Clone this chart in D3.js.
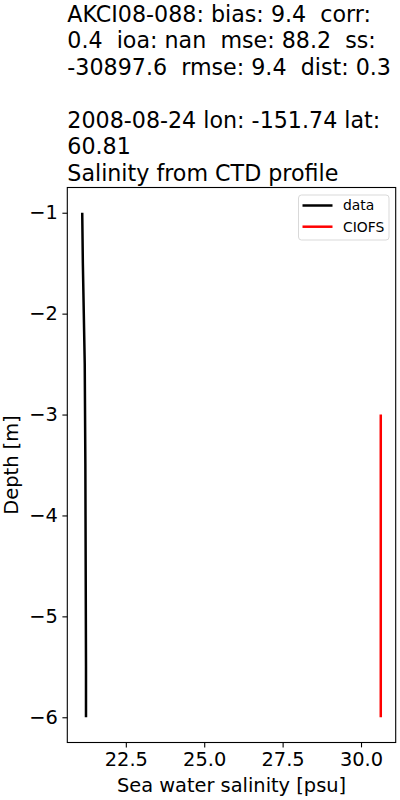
<!DOCTYPE html>
<html><head><meta charset="utf-8">
<script src="https://cdn.jsdelivr.net/npm/d3@7"></script>
<style>body{margin:0;background:#fff}svg{display:block}text{white-space:pre}</style>
</head><body>
<script>
const titleLines = ["AKCI08-088: bias: 9.4  corr:", "0.4  ioa: nan  mse: 88.2  ss:", "-30897.6  rmse: 9.4  dist: 0.3", "", "2008-08-24 lon: -151.74 lat:", "60.81", "Salinity from CTD profile"];
const dataDepth = [-1, -1.5, -2, -2.5, -3, -3.5, -4, -4.5, -5, -5.5, -6];
const dataSal = [21.11, 21.13, 21.16, 21.19, 21.20, 21.21, 21.215, 21.22, 21.225, 21.23, 21.23];
const modelDepth = [-3, -4, -5, -6];
const modelSal = [30.63, 30.63, 30.63, 30.63];
const xTicks = [22.5, 25.0, 27.5, 30.0];
const yTicks = [-1, -2, -3, -4, -5, -6];
const legendLabels = ["data", "CIOFS"];
const colors = ["#000000", "#ff0000"];

const W = 400, H = 800;
const m = {l: 67.3, r: 395.7, t: 187.5, b: 742.5};
const svg = d3.select("body").append("svg").attr("width", W).attr("height", H)
  .style("font-family", "'DejaVu Sans', sans-serif");

const allX = dataSal.concat(modelSal);
const xmin = d3.min(allX), xmax = d3.max(allX);
const xpad = (xmax - xmin) * 0.05;
const x = d3.scaleLinear().domain([xmin - xpad, xmax + xpad]).range([m.l, m.r]);
const allY = dataDepth.concat(modelDepth);
const ymin = d3.min(allY), ymax = d3.max(allY);
const ypad = (ymax - ymin) * 0.05;
const y = d3.scaleLinear().domain([ymin - ypad, ymax + ypad]).range([m.b, m.t]);

// title
svg.append("g").selectAll("text").data(titleLines).join("text")
  .attr("x", m.l).attr("y", (d, i) => 21.7 + i * 26.5)
  .attr("xml:space", "preserve")
  .attr("font-size", 22.2).attr("fill", "#000").text(d => d);

// lines
const line = d3.line().x(d => x(d[0])).y(d => y(d[1]));
const g = svg.append("g");
g.append("path").datum(dataSal.map((v, i) => [v, dataDepth[i]]))
  .attr("d", line).attr("fill", "none").attr("stroke", colors[0]).attr("stroke-width", 2.5);
g.append("path").datum(modelSal.map((v, i) => [v, modelDepth[i]]))
  .attr("d", line).attr("fill", "none").attr("stroke", colors[1]).attr("stroke-width", 2.5);

// frame
svg.append("rect").attr("x", m.l).attr("y", m.t).attr("width", m.r - m.l).attr("height", m.b - m.t)
  .attr("fill", "none").attr("stroke", "#000").attr("stroke-width", 1.1);

// axes
const FS = 19.4;
const xAxis = d3.axisBottom(x).tickValues(xTicks).tickFormat(d3.format(".1f")).tickSize(4.9).tickPadding(4.5);
const gx = svg.append("g").attr("transform", `translate(0,${m.b})`).call(xAxis);
gx.select(".domain").remove();
gx.selectAll("text").attr("font-size", FS).attr("font-family", "'DejaVu Sans', sans-serif").attr("fill", "#000");
gx.selectAll("line").attr("stroke", "#000").attr("stroke-width", 1.1);

const yAxis = d3.axisLeft(y).tickValues(yTicks).tickFormat(d => "\u2212" + Math.abs(d)).tickSize(4.9).tickPadding(4.5);
const gy = svg.append("g").attr("transform", `translate(${m.l},0)`).call(yAxis);
gy.select(".domain").remove();
gy.selectAll("text").attr("font-size", FS).attr("font-family", "'DejaVu Sans', sans-serif").attr("fill", "#000");
gy.selectAll("line").attr("stroke", "#000").attr("stroke-width", 1.1);

// axis labels
svg.append("text").attr("x", (m.l + m.r) / 2).attr("y", 792).attr("text-anchor", "middle")
  .attr("font-size", FS).text("Sea water salinity [psu]");
svg.append("text").attr("transform", `translate(18,${(m.t + m.b) / 2}) rotate(-90)`)
  .attr("text-anchor", "middle").attr("font-size", FS).text("Depth [m]");

// legend
const lg = svg.append("g");
lg.append("rect").attr("x", 298.5).attr("y", 195).attr("width", 90.5).attr("height", 45)
  .attr("rx", 3).attr("fill", "#fff").attr("fill-opacity", 0.8)
  .attr("stroke", "#d9d9d9").attr("stroke-width", 1);
legendLabels.forEach((lab, i) => {
  const yy = 205.5 + i * 21.2;
  lg.append("line").attr("x1", 302.5).attr("x2", 332.5).attr("y1", yy).attr("y2", yy)
    .attr("stroke", colors[i]).attr("stroke-width", 2.5);
  lg.append("text").attr("x", 343).attr("y", yy + 4.8).attr("font-size", 13.9).text(lab);
});
</script>
</body></html>
